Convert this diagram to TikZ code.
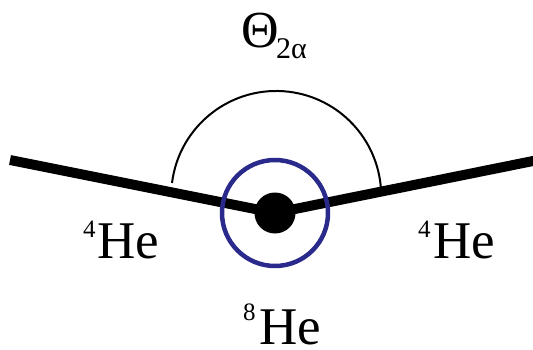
\documentclass[tikz,border=0pt]{standalone}
\usepackage{fontspec}
\setmainfont{Liberation Serif}
\definecolor{ringblue}{RGB}{42,42,140}
\begin{document}
\begin{tikzpicture}[x=1pt,y=-1pt,
  bond/.style={line width=10pt,line cap=butt},
  lbl/.style={inner sep=0pt,anchor=base west},
  big/.style={font=\fontsize{53}{56}\selectfont},
  sup/.style={font=\fontsize{25}{28}\selectfont}]
\clip (0,0) rectangle (533,350);
\useasboundingbox (0,0) rectangle (533,350);
\coordinate (c) at (275,213);
\coordinate (l) at (10,160);
\coordinate (r) at (545,158.6);
\draw[bond] (l) -- (c);
\draw[bond] (c) -- (r);
\draw[line width=2pt] (172,183) arc[start angle=187.1,end angle=356.2,radius=105];
\draw[ringblue,line width=4.5pt] (c) circle[radius=53];
\fill (c) circle[radius=20.5];
% labels
\node[lbl,font=\fontsize{52}{56}\selectfont] (theta) at (241,48) {Θ};
\node[lbl,font=\fontsize{30}{32}\selectfont] (sub) at (276,59) {2α};
\node[lbl,sup] (s4l) at (83,237) {4};
\node[lbl,big] (hel) at (97,258) {He};
\node[lbl,sup] (s4r) at (418,237) {4};
\node[lbl,big] (her) at (433,258) {He};
\node[lbl,sup] (s8) at (243,320) {8};
\node[lbl,big] (he8) at (259,344) {He};
\end{tikzpicture}
\end{document}
